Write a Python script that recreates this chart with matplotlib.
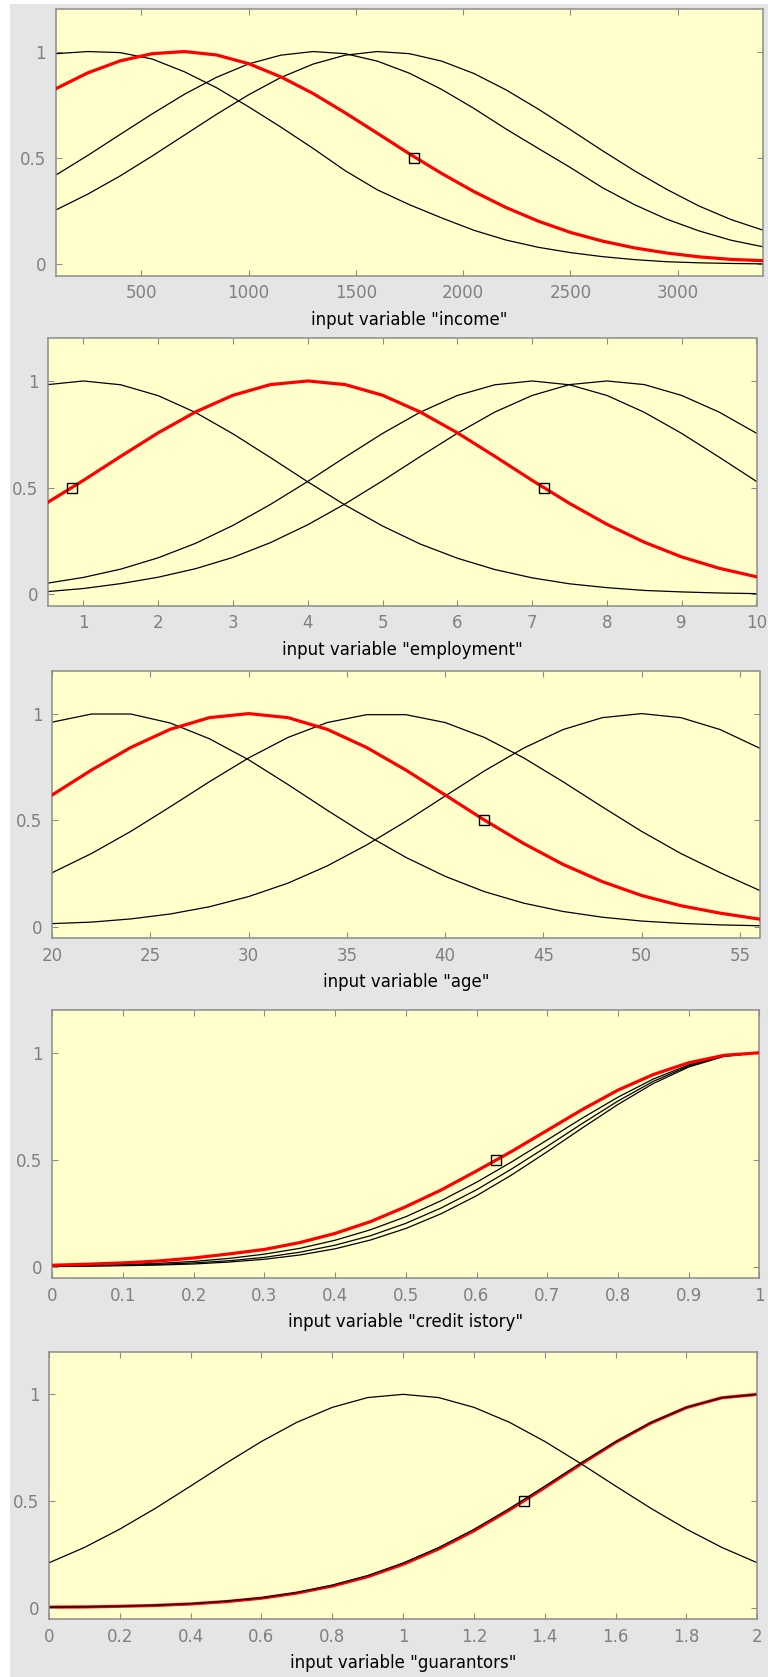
#!/usr/bin/env python3
import matplotlib
matplotlib.use("Agg")
import matplotlib.pyplot as plt
from matplotlib.patches import Rectangle

OUT_PNG = "out.png"
FIG_W, FIG_H = 768, 1677

# ---- input "income" ----
income_x = [100, 250, 400, 550, 700, 850, 1000, 1150, 1300, 1450, 1600, 1750,
            1900, 2050, 2200, 2350, 2500, 2650, 2800, 2950, 3100, 3250, 3400]
income_low = [0.99, 1.0, 0.995, 0.965, 0.905, 0.83, 0.74, 0.645, 0.545, 0.44, 0.35, 0.28,
              0.218, 0.16, 0.114, 0.08, 0.055, 0.036, 0.022, 0.012, 0.007, 0.004, 0.002]
income_sel = [0.825, 0.900, 0.956, 0.990, 1.0, 0.984, 0.943, 0.881, 0.803, 0.712, 0.616, 0.519,
              0.427, 0.342, 0.267, 0.203, 0.150, 0.109, 0.077, 0.053, 0.035, 0.023, 0.017]
income_mid = [0.419, 0.512, 0.610, 0.707, 0.799, 0.879, 0.942, 0.983, 1.0, 0.990, 0.955, 0.898,
              0.822, 0.733, 0.636, 0.545, 0.455, 0.360, 0.280, 0.212, 0.157, 0.113, 0.082]
income_high = [0.255, 0.330, 0.415, 0.509, 0.607, 0.705, 0.797, 0.878, 0.941, 0.983, 1.0, 0.990,
               0.955, 0.897, 0.820, 0.730, 0.633, 0.534, 0.439, 0.352, 0.274, 0.210, 0.160]
income_mark = [1770]
income_ticks = [500, 1000, 1500, 2000, 2500, 3000]

# ---- input "employment" ----
emp_x = [0.5, 1.0, 1.5, 2.0, 2.5, 3.0, 3.5, 4.0, 4.5, 5.0,
         5.5, 6.0, 6.5, 7.0, 7.5, 8.0, 8.5, 9.0, 9.5, 10.0]
emp_short = [0.982, 1.0, 0.982, 0.931, 0.852, 0.752, 0.641, 0.527, 0.418, 0.320,
             0.236, 0.169, 0.116, 0.077, 0.049, 0.031, 0.018, 0.011, 0.006, 0.003]
emp_sel = [0.426, 0.534, 0.647, 0.757, 0.855, 0.933, 0.983, 1.0, 0.983, 0.933,
           0.855, 0.757, 0.647, 0.534, 0.426, 0.328, 0.244, 0.175, 0.122, 0.082]
emp_long = [0.051, 0.079, 0.118, 0.171, 0.239, 0.323, 0.421, 0.529, 0.643, 0.754,
            0.853, 0.932, 0.982, 1.0, 0.982, 0.932, 0.853, 0.754, 0.643, 0.529]
emp_vlong = [0.012, 0.027, 0.050, 0.080, 0.120, 0.173, 0.242, 0.326, 0.424, 0.532,
             0.645, 0.755, 0.854, 0.932, 0.983, 1.0, 0.983, 0.932, 0.854, 0.755]
emp_mark = [0.845, 7.155]
emp_ticks = [1, 2, 3, 4, 5, 6, 7, 8, 9, 10]

# ---- input "age" ----
age_x = [20, 22, 24, 26, 28, 30, 32, 34, 36, 38, 40, 42, 44, 46, 48, 50, 52, 54, 56]
age_young = [0.96, 0.998, 0.998, 0.956, 0.882, 0.783, 0.667, 0.546, 0.430, 0.325,
             0.236, 0.164, 0.110, 0.071, 0.044, 0.026, 0.015, 0.008, 0.004]
age_sel = [0.618, 0.735, 0.841, 0.926, 0.981, 1.0, 0.981, 0.926, 0.841, 0.735,
           0.618, 0.500, 0.390, 0.292, 0.211, 0.146, 0.098, 0.063, 0.035]
age_middle = [0.253, 0.343, 0.447, 0.562, 0.680, 0.792, 0.888, 0.958, 0.995, 0.995,
              0.958, 0.888, 0.792, 0.680, 0.562, 0.447, 0.343, 0.253, 0.170]
age_old = [0.014, 0.021, 0.036, 0.059, 0.093, 0.141, 0.204, 0.285, 0.383, 0.494,
           0.613, 0.731, 0.838, 0.925, 0.981, 1.0, 0.981, 0.925, 0.838]
age_mark = [42.0]
age_ticks = [20, 25, 30, 35, 40, 45, 50, 55]

# ---- input "credit istory" ----
credit_x = [0, 0.05, 0.1, 0.15, 0.2, 0.25, 0.3, 0.35, 0.4, 0.45, 0.5,
            0.55, 0.6, 0.65, 0.7, 0.75, 0.8, 0.85, 0.9, 0.95, 1.0]
credit_sel = [0.006, 0.011, 0.017, 0.026, 0.040, 0.059, 0.080, 0.112, 0.155, 0.210, 0.280,
              0.358, 0.447, 0.539, 0.637, 0.735, 0.825, 0.898, 0.953, 0.988, 1.0]
credit_a = [0.003, 0.005, 0.009, 0.015, 0.024, 0.038, 0.058, 0.085, 0.123, 0.172, 0.233,
            0.308, 0.394, 0.490, 0.592, 0.695, 0.792, 0.877, 0.943, 0.986, 1.0]
credit_b = [0.002, 0.003, 0.006, 0.010, 0.017, 0.027, 0.043, 0.067, 0.100, 0.144, 0.202,
            0.274, 0.359, 0.457, 0.562, 0.670, 0.774, 0.866, 0.938, 0.984, 1.0]
credit_c = [0.001, 0.002, 0.004, 0.007, 0.012, 0.021, 0.034, 0.054, 0.083, 0.124, 0.178,
            0.247, 0.331, 0.429, 0.537, 0.649, 0.758, 0.856, 0.933, 0.983, 1.0]
credit_mark = [0.628]
credit_ticks = [0, 0.1, 0.2, 0.3, 0.4, 0.5, 0.6, 0.7, 0.8, 0.9, 1]

# ---- input "guarantors" ----
guar_x = [0, 0.1, 0.2, 0.3, 0.4, 0.5, 0.6, 0.7, 0.8, 0.9, 1.0,
          1.1, 1.2, 1.3, 1.4, 1.5, 1.6, 1.7, 1.8, 1.9, 2.0]
guar_mid = [0.210, 0.282, 0.368, 0.465, 0.570, 0.677, 0.779, 0.869, 0.939, 0.985, 1.0,
            0.985, 0.939, 0.869, 0.779, 0.677, 0.570, 0.465, 0.368, 0.282, 0.210]
guar_sel = [0.002, 0.003, 0.006, 0.010, 0.017, 0.028, 0.044, 0.068, 0.101, 0.145, 0.203,
            0.275, 0.360, 0.458, 0.563, 0.671, 0.775, 0.866, 0.938, 0.984, 1.0]
guar_high = [0.002, 0.0035, 0.006, 0.011, 0.018, 0.030, 0.046, 0.071, 0.105, 0.150, 0.209,
             0.281, 0.367, 0.464, 0.569, 0.676, 0.778, 0.868, 0.939, 0.984, 1.0]
guar_mark = [1.34]
guar_ticks = [0, 0.2, 0.4, 0.6, 0.8, 1, 1.2, 1.4, 1.6, 1.8, 2]

y_ticks = [0, 0.5, 1]

# axes boxes in pixels: left, top, right, bottom
PANELS = [
    dict(box=(55.7, 9, 763.3, 276), xlim=(100, 3400), x=income_x,
         black=[income_low, income_mid, income_high], red=income_sel,
         mark=income_mark, ticks=income_ticks, label='input variable "income"'),
    dict(box=(48.3, 338.3, 756.5, 606), xlim=(0.53, 10), x=emp_x,
         black=[emp_short, emp_long, emp_vlong], red=emp_sel,
         mark=emp_mark, ticks=emp_ticks, label='input variable "employment"'),
    dict(box=(52.2, 671, 759.5, 938.3), xlim=(20, 56), x=age_x,
         black=[age_young, age_middle, age_old], red=age_sel,
         mark=age_mark, ticks=age_ticks, label='input variable "age"'),
    dict(box=(52.3, 1010, 759.3, 1278.3), xlim=(0, 1), x=credit_x,
         black=[credit_a, credit_b, credit_c], red=credit_sel,
         mark=credit_mark, ticks=credit_ticks, label='input variable "credit istory"'),
    dict(box=(49.0, 1351.7, 757.3, 1619.3), xlim=(0, 2), x=guar_x,
         black=[guar_mid, guar_high], red=guar_sel, red_under=True,
         mark=guar_mark, ticks=guar_ticks, label='input variable "guarantors"'),
]

GREY = "#8c8c8c"


def draw_panel(fig, p):
    l, t, r, b = p["box"]
    ax = fig.add_axes([l / FIG_W, 1 - b / FIG_H, (r - l) / FIG_W, (b - t) / FIG_H])
    ax.set_facecolor("#ffffcc")
    red_z = 1 if p.get("red_under") else 3
    for ys in p["black"]:
        ax.plot(p["x"], ys, color="black", lw=0.9, zorder=2)
    ax.plot(p["x"], p["red"], color="#ff0000", lw=2.3, zorder=red_z)
    ax.plot(p["mark"], [0.5] * len(p["mark"]), ls="none", marker="s", ms=7,
            mfc="none", mec="black", mew=1.0, zorder=4)

    ax.set_xlim(*p["xlim"])
    ax.set_ylim(-0.055, 1.2)
    ax.set_xticks(p["ticks"])
    ax.set_xticklabels([f"{v:g}" for v in p["ticks"]])
    ax.set_yticks(y_ticks)
    ax.set_yticklabels([f"{v:g}" for v in y_ticks])
    ax.tick_params(direction="in", length=4.3, width=0.8, color=GREY,
                   labelcolor="#808080", labelsize=12, top=True, right=True)
    ax.tick_params(axis="x", pad=6)
    ax.tick_params(axis="y", pad=7)
    for sp in ax.spines.values():
        sp.set_color(GREY)
        sp.set_linewidth(1.1)

    ax.set_xlabel(p["label"], fontsize=12, color="black")
    ax.xaxis.set_label_coords(0.5, -44 / (b - t))
    ax.xaxis.label.set_verticalalignment("center")
    return ax


def main() -> None:
    plt.rcParams["font.family"] = "DejaVu Sans"
    fig = plt.figure(figsize=(FIG_W / 100, FIG_H / 100), dpi=100, facecolor="white")
    fig.patches.append(Rectangle((10 / FIG_W, 0), 1 - 10 / FIG_W, 1 - 4 / FIG_H,
                                 transform=fig.transFigure, facecolor="#e5e5e5",
                                 edgecolor="none", zorder=-10))
    for p in PANELS:
        draw_panel(fig, p)
    fig.savefig(OUT_PNG, dpi=100, facecolor=fig.get_facecolor())


if __name__ == "__main__":
    main()
